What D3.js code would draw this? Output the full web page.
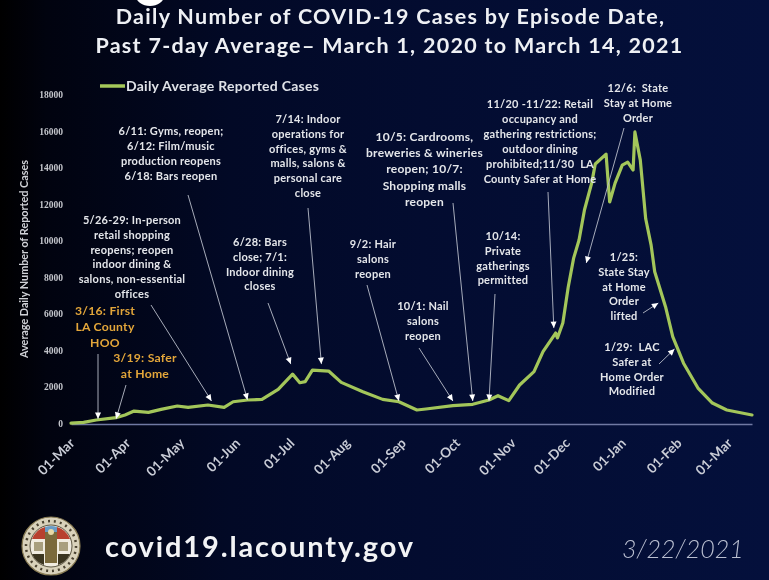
<!DOCTYPE html>
<html><head><meta charset="utf-8">
<style>
html,body{margin:0;padding:0;width:769px;height:580px;overflow:hidden;background:#000}
svg{display:block;background:linear-gradient(90deg,#000 0%,#01030f 6%,#020926 30%,#030c30 55%,#04103c 100%);}
text{font-family:Lato,"Open Sans",sans-serif;white-space:pre}
#chart{filter:blur(0.35px)}
</style>
<script src="https://cdnjs.cloudflare.com/ajax/libs/d3/7.8.5/d3.min.js"></script>
</head><body>
<svg id="chart" width="769" height="580"></svg>
<script>
const titleLines=["Daily Number of COVID-19 Cases by Episode Date,","Past 7-day Average– March 1, 2020 to March 14, 2021"];
const seriesName="Daily Average Reported Cases";
const yAxisTitle="Average Daily Number of Reported Cases";
const yTicks=[0,2000,4000,6000,8000,10000,12000,14000,16000,18000];
const xTickDates=["2020-03-01","2020-04-01","2020-05-01","2020-06-01","2020-07-01","2020-08-01","2020-09-01","2020-10-01","2020-11-01","2020-12-01","2021-01-01","2021-02-01","2021-03-01"];
const caseDates=["2020-03-01","2020-03-08","2020-03-15","2020-03-26","2020-03-31","2020-04-05","2020-04-13","2020-04-20","2020-04-29","2020-05-05","2020-05-16","2020-05-25","2020-05-30","2020-06-07","2020-06-15","2020-06-24","2020-07-02","2020-07-06","2020-07-09","2020-07-13","2020-07-22","2020-07-29","2020-08-10","2020-08-21","2020-08-30","2020-09-09","2020-09-14","2020-09-29","2020-10-10","2020-10-19","2020-10-24","2020-10-30","2020-11-05","2020-11-13","2020-11-18","2020-11-25","2020-11-26","2020-11-29","2020-12-02","2020-12-05","2020-12-08","2020-12-11","2020-12-15","2020-12-17","2020-12-23","2020-12-25","2020-12-28","2021-01-01","2021-01-04","2021-01-07","2021-01-08","2021-01-11","2021-01-14","2021-01-17","2021-01-19","2021-01-25","2021-01-29","2021-02-04","2021-02-12","2021-02-20","2021-02-28","2021-03-14"];
const caseValues=[20,60,190,320,465,680,610,775,957,885,1012,885,1190,1285,1320,1870,2700,2230,2290,2925,2870,2250,1740,1320,1190,740,793,975,1050,1285,1520,1250,2105,2835,3930,4950,4680,5500,7470,9050,10040,11680,13150,14200,14740,12120,13150,14140,14300,13870,15950,14410,11200,9760,8300,6390,4750,3300,1940,1120,740,465];

const notes=[
 {lines:["6/11: Gyms, reopen;","6/12: Film/music","production reopens","6/18: Bars reopen"],tipDate:"2020-06-07",tipValue:1290},
 {lines:["5/26-29: In-person","retail shopping","reopens; reopen","indoor dining &","salons, non-essential","offices"],tipDate:"2020-05-18",tipValue:1230},
 {lines:["7/14: Indoor","operations for","offices, gyms &","malls, salons &","personal care","close"],tipDate:"2020-07-18",tipValue:3250},
 {lines:["6/28: Bars","close; 7/1:","Indoor dining","closes"],tipDate:"2020-07-01",tipValue:3250},
 {lines:["9/2: Hair","salons","reopen"],tipDate:"2020-08-30",tipValue:1230},
 {lines:["10/5: Cardrooms,","breweries & wineries","reopen; 10/7:","Shopping malls","reopen"],tipDate:"2020-10-10",tipValue:1230},
 {lines:["10/14:","Private","gatherings","permitted"],tipDate:"2020-10-19",tipValue:1230},
 {lines:["10/1: Nail","salons","reopen"],tipDate:"2020-09-29",tipValue:1230},
 {lines:["11/20 -11/22: Retail","occupancy and","gathering restrictions;","outdoor dining","prohibited;11/30  LA","County Safer at Home"],tipDate:"2020-11-24",tipValue:5220},
 {lines:["12/6:  State","Stay at Home","Order"],tipDate:"2020-12-12",tipValue:8780},
 {lines:["1/25:","State Stay","at Home","Order","lifted"],tipDate:"2021-01-21",tipValue:6590},
 {lines:["1/29:  LAC","Safer at","Home Order","Modified"],tipDate:"2021-01-30",tipValue:4075},
 {lines:["3/16: First","LA County","HOO"],tipDate:"2020-03-16",tipValue:250,accent:true},
 {lines:["3/19: Safer","at Home"],tipDate:"2020-03-26",tipValue:250,accent:true}
];
// label placement: centre x, first baseline, line step, arrow tail x, y, font size (same order as notes)
const noteLayout=[[171,135,15,188,195,11],[132,224,14.8,151,305,11],[308,123,14.8,308,208,11],[260,246,14.8,268,303,11],[373,248,15,367,285,11],[424.5,141,16.2,453,203,12],[503,240,14.8,495,294,11],[423,310,15,419,348,11],[540,108,15,548,192,11],[638,92,15,624,128,11],[624,261,14.8,643,313,11],[632,351,14.8,659,364,11],[105,315,16,98,354,12.2],[145,362,16,126,385,12.2]];

const parse=d3.utcParse("%Y-%m-%d");
const svg=d3.select("#chart");
const x=d3.scaleUtc().domain([parse("2020-03-01"),parse("2021-03-14")]).range([71,752]);
const y=d3.scaleLinear().domain([0,18000]).range([423.5,94.5]);

svg.append("ellipse").attr("cx",150).attr("cy",-4).attr("rx",14).attr("ry",10).attr("fill","#fff");

svg.selectAll("text.title").data(titleLines).join("text").attr("class","title")
 .attr("x",(d,i)=>i?389.5:390.5).attr("y",(d,i)=>i?53:24).attr("text-anchor","middle")
 .attr("fill","#eef0f4").style("font-size","21.5px").style("font-weight",700).style("letter-spacing","1.3px").text(d=>d);

// legend
svg.append("line").attr("x1",100).attr("x2",125).attr("y1",86).attr("y2",86).attr("stroke","#a5c85a").attr("stroke-width",3.5);
svg.append("text").attr("x",126).attr("y",90.5).attr("fill","#dfe2e8").style("font-size","14px").style("font-weight",700).style("letter-spacing",".25px").text(seriesName);

// axes
const yAxis=d3.axisLeft(y).tickValues(yTicks).tickSize(0).tickPadding(8).tickFormat(d3.format("d"));
const gy=svg.append("g").attr("transform","translate(71,0)").call(yAxis);
gy.select(".domain").remove();
gy.selectAll("text").attr("fill","#c4c6cc").style("font-size","9.5px").style("font-weight",700).style("font-family","'Liberation Serif',serif").attr("dy","3");
svg.append("text").attr("transform","translate(28,259) rotate(-90)").attr("text-anchor","middle").attr("fill","#cfd1d6").style("font-size","10.8px").style("font-weight",700).text(yAxisTitle);

const xAxis=d3.axisBottom(x).tickValues(xTickDates.map(parse)).tickSize(0).tickFormat(d3.utcFormat("%d-%b"));
const gx=svg.append("g").attr("transform","translate(0,424)").call(xAxis);
gx.select(".domain").attr("stroke","#7079a3").attr("stroke-width",1.6);
gx.selectAll("text").attr("fill","#c9ccd6").attr("text-anchor","end").attr("dy",0).attr("y",0)
 .attr("transform","translate(4,20) rotate(-45)").style("font-size","13.5px").style("font-weight",700);

// series
const line=d3.line().x(d=>x(d[0])).y(d=>y(d[1])).curve(d3.curveLinear);
svg.append("path").datum(caseDates.map((d,i)=>[parse(d),caseValues[i]])).attr("d",line)
 .attr("fill","none").attr("stroke","#a3c65a").attr("stroke-width",3.2).attr("stroke-linejoin","round").attr("stroke-linecap","round");

// annotations
notes.forEach((n,i)=>{
 const [cx,top,step,tx,ty,fs]=noteLayout[i];
 const px=x(parse(n.tipDate)),py=y(n.tipValue);
 const a=Math.atan2(py-ty,px-tx)*180/Math.PI;
 svg.append("line").attr("x1",tx).attr("y1",ty).attr("x2",px).attr("y2",py).attr("stroke","#b9bdca").attr("stroke-width",.9);
 svg.append("path").attr("d","M0,0L-6.5,-3L-6.5,3Z").attr("fill","#fff").attr("transform",`translate(${px},${py}) rotate(${a})`);
 n.lines.forEach((t,j)=>{
  svg.append("text").attr("x",cx).attr("y",top+j*step).attr("text-anchor","middle")
   .attr("fill",n.accent?"#e3a63a":"#e4e6ea").style("font-size",fs+"px").style("font-weight",700).style("letter-spacing",".25px").text(t);
 });
});

// footer
svg.append("text").attr("x",105).attr("y",557).attr("fill","#f2f3f5").style("font-size","29px").style("font-weight",700).style("letter-spacing","1.85px").text("covid19.lacounty.gov");
svg.append("text").attr("x",622).attr("y",558).attr("fill","#b9bed0").style("font-size","25px").style("font-style","italic").style("font-weight",300).text("3/22/2021");

// seal
const s=svg.append("g").attr("transform","translate(51,546)");
s.append("circle").attr("r",29).attr("fill","#d9d2bb");
s.append("circle").attr("r",29).attr("fill","none").attr("stroke","#8a7d55").attr("stroke-width",1.2);
s.append("circle").attr("r",25).attr("fill","none").attr("stroke","#4a4230").attr("stroke-width",2.5).attr("stroke-dasharray","2 4");
s.append("circle").attr("r",21).attr("fill","#f1ece0").attr("stroke","#3a3320").attr("stroke-width",.8);
s.append("path").attr("d","M-19,-7A20,20 0 0 1 -6,-19L-6,-7Z").attr("fill","#b8402f");
s.append("path").attr("d","M19,-7A20,20 0 0 0 6,-19L6,-7Z").attr("fill","#b8402f");
s.append("path").attr("d","M-6,-19A20,20 0 0 1 6,-19L6,-7L-6,-7Z").attr("fill","#6a9cc6");
s.append("path").attr("d","M-19,8A20,20 0 0 0 -7,19L-7,8Z").attr("fill","#3b3520");
s.append("path").attr("d","M19,8A20,20 0 0 1 7,19L7,8Z").attr("fill","#3b3520");
s.append("rect").attr("x",-6).attr("y",-14).attr("width",12).attr("height",31).attr("fill","#7b6a3c");
s.append("circle").attr("cy",-14).attr("r",3).attr("fill","#e8d9a8");
s.append("rect").attr("x",-17).attr("y",-4).attr("width",9).attr("height",9).attr("fill","#a99f7e");
s.append("rect").attr("x",8).attr("y",-4).attr("width",9).attr("height",9).attr("fill","#a99f7e");
</script>
</body></html>
